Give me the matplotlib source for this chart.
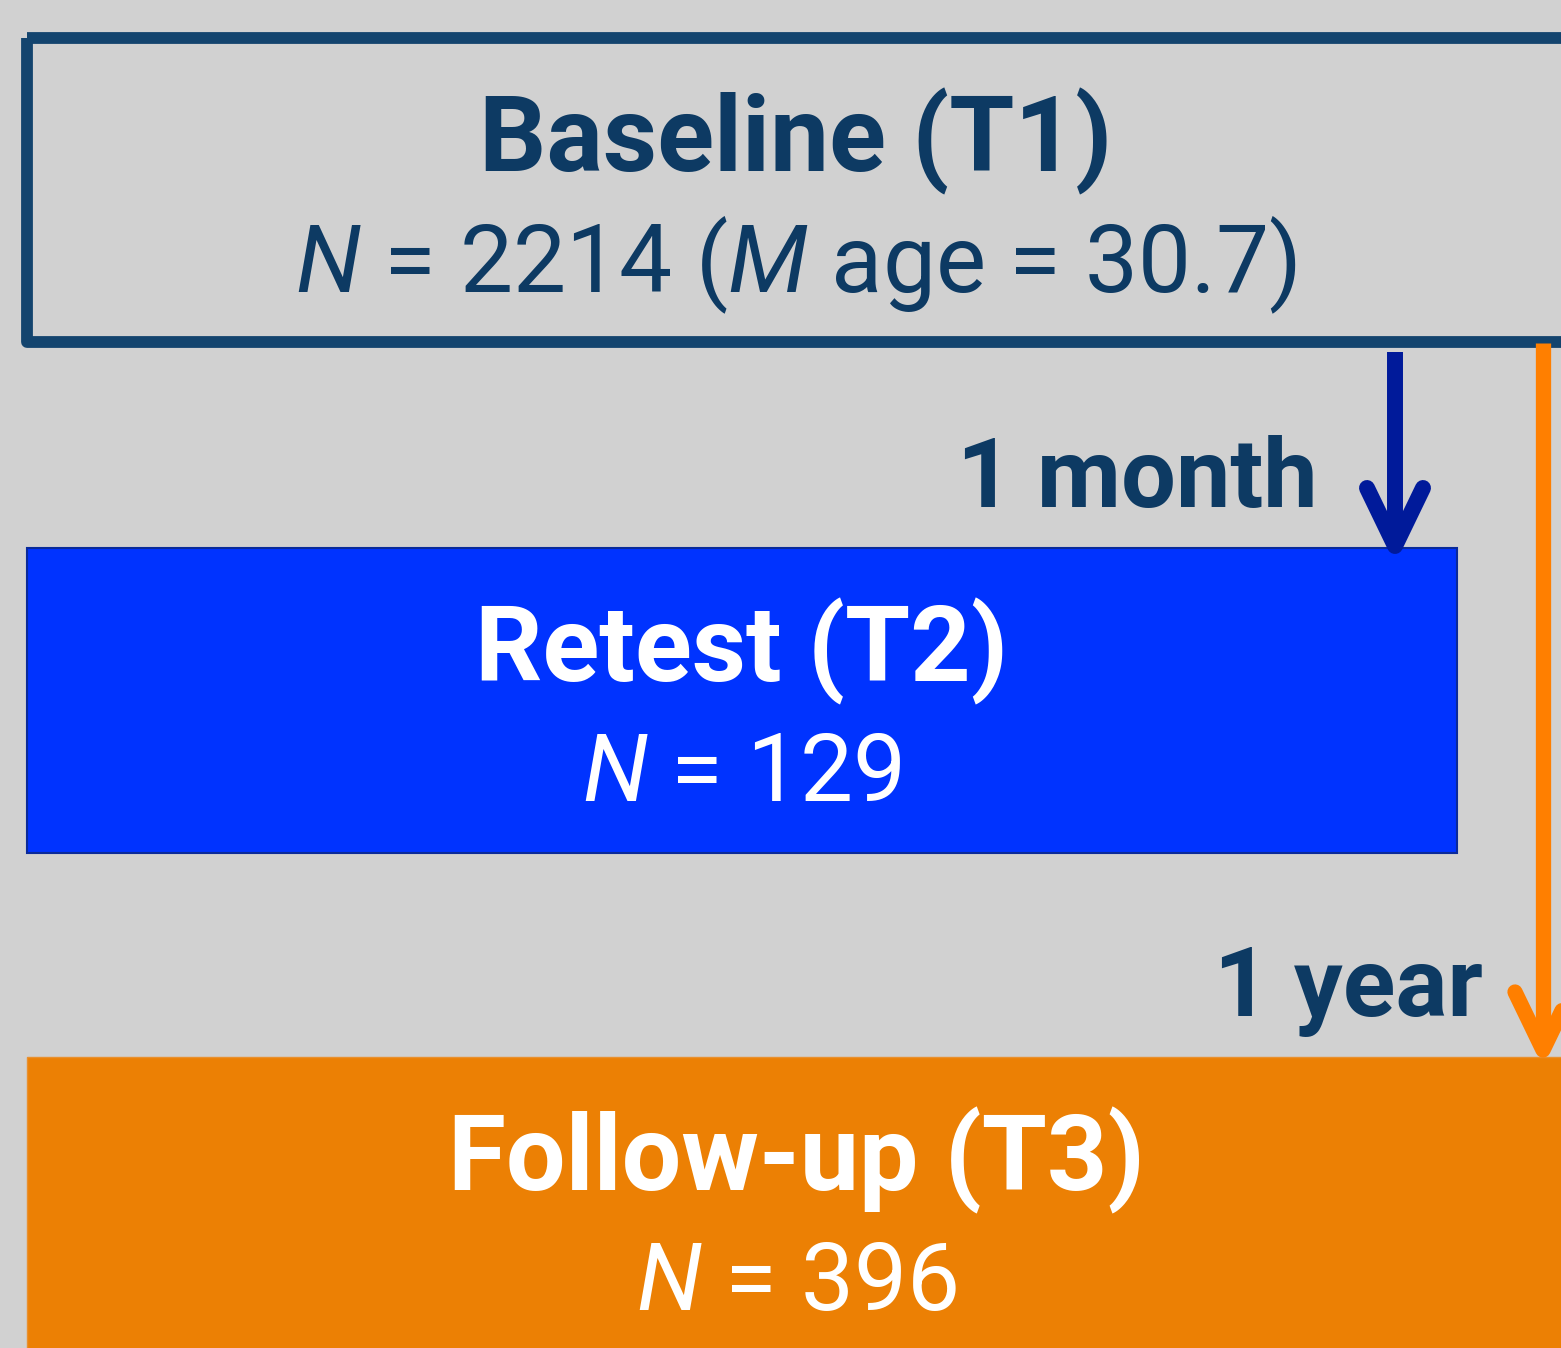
"""Study design flow: baseline, retest and follow-up waves."""

import matplotlib.pyplot as plt
from matplotlib.patches import Rectangle

plt.rcParams["mathtext.fontset"] = "custom"
plt.rcParams["mathtext.rm"] = "Roboto"
plt.rcParams["mathtext.it"] = "Roboto:italic"

# data
stages = ["Baseline (T1)", "Retest (T2)", "Follow-up (T3)"]
sample_n = [2214, 129, 396]
baseline_mean_age = 30.7
intervals = ["1 month", "1 year"]

W, H = 1561, 1348
NAVY = "#0d3a63"
BG = "#d1d1d1"

fig = plt.figure(figsize=(W / 100, H / 100), dpi=100, facecolor=BG)
ax = fig.add_axes([0, 0, 1, 1])
ax.set_xlim(0, W)
ax.set_ylim(H, 0)
ax.axis("off")
ax.set_facecolor(BG)

# boxes: (x0, y0, x1, y1)
boxes = [(27, 38, 1565, 342), (27, 548, 1457, 853), (27, 1057, 1565, 1400)]
ax.add_patch(Rectangle((27, 38), 1565 - 27, 342 - 38, fill=False,
                       edgecolor="#13446e", linewidth=8.5, joinstyle="round"))
ax.add_patch(Rectangle((27, 548), 1457 - 27, 853 - 548, facecolor="#0033ff",
                       edgecolor="#0a2a9a", linewidth=1.5))
ax.add_patch(Rectangle((27, 1057), 1565 - 27, 1400 - 1057, facecolor="#ec8004",
                       edgecolor="#e89030", linewidth=1.0))

subtitles = [
    rf"$\it{{N}}$ = {sample_n[0]} ($\it{{M}}$ age = {baseline_mean_age})",
    rf"$\it{{N}}$ = {sample_n[1]}",
    rf"$\it{{N}}$ = {sample_n[2]}",
]
text_colors = [NAVY, "white", "white"]
for (x0, y0, x1, y1), title, sub, col in zip(boxes, stages, subtitles, text_colors):
    cx = (x0 + x1) / 2
    ax.text(cx, y0 + 103, title, ha="center", va="center", fontsize=76,
            fontweight="bold", family="Roboto", color=col)
    ax.text(cx, y0 + 227, sub, ha="center", va="center", fontsize=68,
            family="Roboto", color=col)

# arrows
def chevron_arrow(x, y_start, y_end, color, lw):
    ax.plot([x, x], [y_start, y_end - 8], color=color, linewidth=lw,
            solid_capstyle="butt")
    ax.plot([x - 28, x, x + 28], [y_end - 58, y_end, y_end - 58], color=color,
            linewidth=lw, solid_capstyle="round", solid_joinstyle="round")

chevron_arrow(1395, 352, 546, "#001a9a", 11.5)
chevron_arrow(1543, 343, 1050, "#ff7f00", 11)

ax.text(1318, 481, intervals[0], ha="right", va="center", fontsize=70,
        fontweight="bold", family="Roboto", color=NAVY)
ax.text(1483, 991, intervals[1], ha="right", va="center", fontsize=70,
        fontweight="bold", family="Roboto", color=NAVY)

fig.savefig("out.png", dpi=100, facecolor=BG)
